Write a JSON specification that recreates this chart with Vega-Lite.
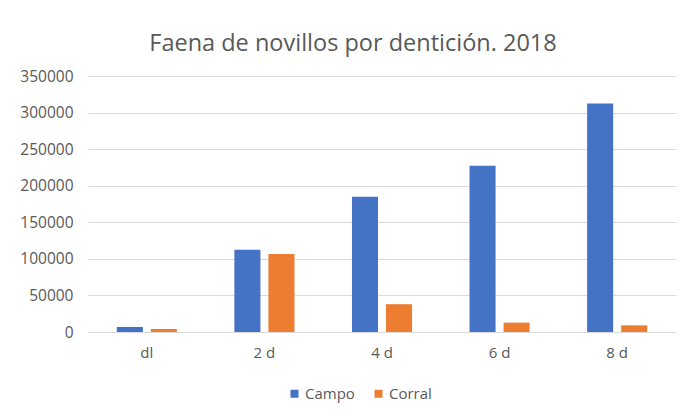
{
  "$schema": "https://vega.github.io/schema/vega-lite/v6.json",
  "width": 588,
  "height": 256,
  "autosize": {"type": "none"},
  "padding": {"left": 88, "top": 76, "right": 18, "bottom": 84},
  "background": "white",
  "title": {
    "text": "Faena de novillos por dentición. 2018",
    "font": "Open Sans",
    "fontSize": 23.5,
    "fontWeight": "normal",
    "color": "#595959",
    "anchor": "middle",
    "dx": -29,
    "offset": 14
  },
  "config": {
    "view": {"stroke": null},
    "font": "Open Sans"
  },
  "data": {
    "values": [
      {"denticion": "dl", "tipo": "Campo", "valor": 6900},
      {"denticion": "dl", "tipo": "Corral", "valor": 4100},
      {"denticion": "2 d", "tipo": "Campo", "valor": 112500},
      {"denticion": "2 d", "tipo": "Corral", "valor": 106600},
      {"denticion": "4 d", "tipo": "Campo", "valor": 184800},
      {"denticion": "4 d", "tipo": "Corral", "valor": 38000},
      {"denticion": "6 d", "tipo": "Campo", "valor": 227400},
      {"denticion": "6 d", "tipo": "Corral", "valor": 12800},
      {"denticion": "8 d", "tipo": "Campo", "valor": 312400},
      {"denticion": "8 d", "tipo": "Corral", "valor": 9150}
    ]
  },
  "mark": {"type": "bar"},
  "encoding": {
    "x": {
      "field": "denticion",
      "type": "nominal",
      "sort": null,
      "scale": {"paddingInner": 0.489, "paddingOuter": 0.245},
      "axis": {
        "title": null,
        "labelAngle": 0,
        "labelFontSize": 15,
        "labelColor": "#595959",
        "labelPadding": 13,
        "ticks": false,
        "domainColor": "#d9d9d9",
        "domainWidth": 1
      }
    },
    "xOffset": {
      "field": "tipo",
      "type": "nominal",
      "scale": {"paddingInner": 0.235, "paddingOuter": 0}
    },
    "y": {
      "field": "valor",
      "type": "quantitative",
      "scale": {"domain": [0, 350000]},
      "axis": {
        "title": null,
        "values": [0, 50000, 100000, 150000, 200000, 250000, 300000, 350000],
        "format": "d",
        "labelFontSize": 15.5,
        "labelColor": "#595959",
        "labelPadding": 15,
        "ticks": false,
        "domain": false,
        "gridColor": "#d9d9d9",
        "gridWidth": 1
      }
    },
    "color": {
      "field": "tipo",
      "type": "nominal",
      "scale": {"domain": ["Campo", "Corral"], "range": ["#4472C4", "#ED7D31"]},
      "legend": {
        "title": null,
        "orient": "none",
        "legendX": 199,
        "legendY": 310,
        "direction": "horizontal",
        "symbolType": "square",
        "symbolSize": 64,
        "symbolStrokeWidth": 0,
        "labelFontSize": 15,
        "labelColor": "#595959",
        "labelOffset": 3,
        "columnPadding": 16
      }
    }
  }
}
